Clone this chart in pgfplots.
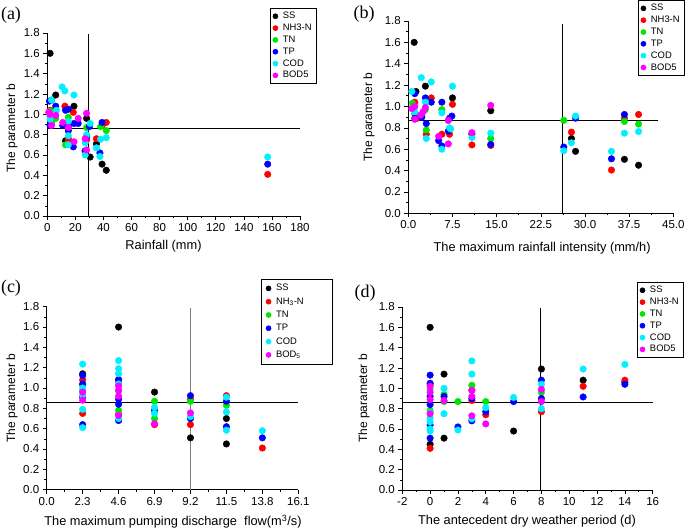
\documentclass[border=0pt]{standalone}
\usepackage{pgfplots}
\pgfplotsset{compat=1.18}
\usepackage{fontspec}
\setmainfont{Liberation Sans}
\newfontfamily\seriffont{Liberation Serif}
\definecolor{cgreen}{RGB}{0,230,0}
\definecolor{ccyan}{RGB}{0,240,255}
\definecolor{cmag}{RGB}{255,0,255}
\definecolor{cblue}{RGB}{0,0,255}
\definecolor{cred}{RGB}{255,0,0}
\begin{document}
\begin{tikzpicture}
\useasboundingbox (0pt,0pt) rectangle (685pt,528pt);
\pgfplotsset{
  panel/.style={
    scale only axis, axis lines=left, axis line style={-, line width=0.8pt},
    ymin=0, ymax=1.8, ytick={0,0.2,0.4,0.6,0.8,1.0,1.2,1.4,1.6,1.8},
    minor y tick num=1, minor x tick num=1,
    tick align=outside, major tick length=4pt, minor tick length=2.2pt,
    every tick/.style={black, line width=0.6pt},
    /pgf/number format/assume math mode=true,
    yticklabel style={font=\fontsize{11.5}{12}\selectfont, /pgf/number format/.cd, fixed, fixed zerofill, precision=1},
    xticklabel style={font=\fontsize{11.5}{12}\selectfont},
    ylabel={The parameter b},
    xlabel style={font=\fontsize{12.8}{14}\selectfont, anchor=center},
    ylabel style={font=\fontsize{12}{14}\selectfont, anchor=center},
    legend cell align=left,
    legend style={draw=black, line width=0.6pt, font=\fontsize{9.4}{10}\selectfont, inner xsep=3pt, inner ysep=2pt, row sep=-0.2pt, anchor=north east,
      /tikz/every odd column/.append style={column sep=3pt}},
    clip=false,
  },
  s1/.style={only marks, mark=*, mark size=3.3pt, color=black},
  s2/.style={only marks, mark=*, mark size=3.3pt, color=cred},
  s3/.style={only marks, mark=*, mark size=3.3pt, color=cgreen},
  s4/.style={only marks, mark=*, mark size=3.3pt, color=cblue},
  s5/.style={only marks, mark=*, mark size=3.3pt, color=ccyan},
  s6/.style={only marks, mark=*, mark size=3.3pt, color=cmag},
  legend image post style={mark size=2.5pt},
}
% ---------------- (a)
\begin{axis}[panel, at={(47.3pt,312pt)}, anchor=south west, width=252.7pt, height=183pt,
  xmin=0, xmax=180, xtick={0,20,...,180},
  xlabel={Rainfall (mm)},
  xlabel style={at={(axis description cs:0.46,-0.165)}},
  ylabel style={at={(axis description cs:-0.14,0.48)}},
  legend style={at={(1.067,1.137)}}]
\addplot[s1] coordinates {(3,1.14) (2,1.60) (6,1.19) (19,1.08) (28,0.96) (13,0.74) (30.5,0.58) (35,0.71) (39,0.51) (42,0.45)};
\addplot[s2] coordinates {(2,1.04) (3,0.92) (12.5,1.08) (18.5,1.02) (15,0.76) (15,0.74) (27,0.64) (28,0.75) (35,0.76) (42,0.92) (39,0.89) (157,0.41)};
\addplot[s3] coordinates {(2,1.03) (3,0.93) (6,0.96) (15,0.97) (15,0.87) (28,0.87) (38,0.88) (42,0.84) (2,0.98) (13,0.70)};
\addplot[s4] coordinates {(1.5,1.13) (6,1.08) (13,1.04) (15,1.05) (15,0.84) (15,0.89) (11,0.89) (19,0.91) (22,0.91) (18.5,0.68) (27,0.64) (28,0.78) (30,0.88) (39,0.92) (37.5,0.62) (157,0.51) (2,0.89)};
\addplot[s5] coordinates {(10.5,1.27) (12.5,1.23) (19,1.19) (3,1.14) (6.5,1.04) (2,0.95) (15,0.79) (15,0.70) (27,0.72) (27,0.60) (28,0.80) (30.5,0.91) (35,0.67) (38,0.755) (42,0.77) (37.5,0.585) (157,0.58) (15,0.93)};
\addplot[s6] coordinates {(2,1.0) (6,0.99) (3,0.89) (11,0.92) (22,0.96) (28,1.01) (15,0.87) (19,0.73) (27,0.76) (28,0.65) (1,1.02)};
\addplot[black, line width=1pt, forget plot] coordinates {(29.2,0) (29.2,1.79)};
\addplot[black, line width=1pt, forget plot] coordinates {(0,0.86) (180,0.86)};
\legend{SS,NH3-N,TN,TP,COD,BOD5}
\end{axis}
% ---------------- (b)
\begin{axis}[panel, at={(408.3pt,314.7pt)}, anchor=south west, width=265pt, height=192.3pt,
  xmin=0, xmax=45, xtick={0,7.5,...,45},
  xticklabel style={/pgf/number format/.cd, fixed, fixed zerofill, precision=1},
  xlabel={The maximum rainfall intensity (mm/h)},
  xlabel style={at={(axis description cs:0.505,-0.18)}},
  ylabel style={at={(axis description cs:-0.148,0.5)}},
  legend style={at={(1.044,1.109)}}]
\addplot[s1] coordinates {(1.0,1.60) (2.9,1.19) (1.3,1.14) (7.5,1.08) (14.0,0.96) (10.8,0.74) (27.7,0.70) (28.4,0.58) (36.7,0.505) (39.1,0.45)};
\addplot[s2] coordinates {(3.9,1.08) (7.5,1.02) (1.1,1.04) (1.5,0.89) (3.05,0.74) (5.7,0.74) (7.0,0.74) (10.8,0.64) (14.0,0.635) (27.7,0.76) (34.5,0.405) (36.7,0.89) (39.1,0.925)};
\addplot[s3] coordinates {(0.7,1.03) (2.9,0.97) (5.7,0.97) (6.8,0.87) (3.05,0.78) (14.0,0.70) (26.4,0.87) (36.7,0.86) (39.1,0.835) (1.1,0.93)};
\addplot[s4] coordinates {(1.1,1.12) (2.9,1.08) (3.9,1.04) (5.7,1.04) (2.3,0.90) (1.1,0.89) (7.4,0.91) (7.0,0.89) (3.05,0.84) (5.15,0.68) (5.7,0.63) (6.8,0.77) (14.0,0.645) (26.4,0.62) (28.4,0.89) (34.5,0.51) (36.7,0.925)};
\addplot[s5] coordinates {(2.2,1.27) (3.9,1.23) (7.5,1.19) (0.6,1.14) (2.9,1.04) (1.1,0.95) (5.7,0.94) (3.05,0.70) (5.7,0.60) (7.0,0.80) (7.2,0.79) (10.8,0.71) (14.0,0.75) (26.4,0.585) (27.7,0.66) (28.4,0.91) (34.5,0.58) (36.7,0.75) (39.1,0.765)};
\addplot[s6] coordinates {(0.6,0.98) (1.1,1.0) (2.9,0.99) (2.5,0.95) (2.1,0.92) (1.1,0.88) (6.8,0.87) (5.15,0.72) (6.8,0.65) (10.8,0.755) (14.0,1.01)};
\addplot[black, line width=1pt, forget plot] coordinates {(26.1,0) (26.1,1.77)};
\addplot[black, line width=1pt, forget plot] coordinates {(0,0.873) (42.4,0.873)};
\legend{SS,NH3-N,TN,TP,COD,BOD5}
\end{axis}
% ---------------- (c)
\begin{axis}[panel, at={(46.7pt,38.3pt)}, anchor=south west, width=251.6pt, height=183pt,
  xmin=0, xmax=16.1, xtick={0,2.3,4.6,6.9,9.2,11.5,13.8,16.1},
  xticklabel style={/pgf/number format/.cd, fixed, fixed zerofill, precision=1},
  xlabel={The maximum pumping discharge\ \ flow(m\textsuperscript{3}/s)},
  xlabel style={at={(axis description cs:0.502,-0.175)}},
  ylabel style={at={(axis description cs:-0.138,0.5)}},
  legend style={at={(1.138,1.151)}, row sep=1.3pt, inner xsep=5pt, inner ysep=3pt}]
\addplot[s1] coordinates {(2.3,1.14) (4.6,1.60) (4.6,1.08) (6.9,0.96) (9.2,0.51) (11.5,0.70) (11.5,0.45)};
\addplot[s2] coordinates {(2.3,1.08) (2.3,0.75) (4.6,1.08) (4.6,0.74) (6.9,0.64) (9.2,0.89) (9.2,0.64) (11.5,0.925) (13.8,0.41)};
\addplot[s3] coordinates {(2.3,0.97) (2.3,1.03) (4.6,0.97) (4.6,0.78) (6.9,0.87) (6.9,0.70) (9.2,0.87) (11.5,0.83)};
\addplot[s4] coordinates {(2.3,1.125) (2.3,1.04) (2.3,0.91) (2.3,0.64) (4.6,1.08) (4.6,1.04) (4.6,0.89) (4.6,0.84) (4.6,0.68) (6.9,0.78) (9.2,0.925) (9.2,0.70) (11.5,0.87) (11.5,0.62) (13.8,0.51)};
\addplot[s5] coordinates {(2.3,1.235) (2.3,1.0) (2.3,0.93) (2.3,0.79) (2.3,0.61) (4.6,1.27) (4.6,1.19) (4.6,1.14) (4.6,1.04) (4.6,0.70) (6.9,0.81) (6.9,0.75) (9.2,0.72) (11.5,0.91) (11.5,0.765) (11.5,0.585) (13.8,0.58)};
\addplot[s6] coordinates {(2.3,0.96) (2.3,0.88) (4.6,1.02) (4.6,0.98) (4.6,0.92) (4.6,0.73) (6.9,0.65) (9.2,0.755)};
\addplot[gray, line width=1.2pt, forget plot] coordinates {(9.2,0) (9.2,1.79)};
\addplot[black, line width=1pt, forget plot] coordinates {(0,0.86) (16.1,0.86)};
\legend{SS,NH\textsubscript{3}-N\hspace*{22pt},TN,TP,COD,BOD\textsubscript{5}}
\end{axis}
% ---------------- (d)
\begin{axis}[panel, at={(402.3pt,38pt)}, anchor=south west, width=250.4pt, height=183pt,
  xmin=-2, xmax=16, xtick={-2,0,...,16},
  xlabel={The antecedent dry weather period (d)},
  xlabel style={at={(axis description cs:0.498,-0.17)}},
  ylabel style={at={(axis description cs:-0.153,0.5)}},
  legend style={at={(1.125,1.137)}}]
\addplot[s1] coordinates {(0,1.60) (0,0.45) (1,1.14) (1,0.51) (6,0.58) (8,1.19) (11,1.08) (14,1.06)};
\addplot[s2] coordinates {(0,0.41) (0,1.04) (3,0.98) (3,0.88) (4,0.74) (8,0.77) (11,1.02) (14,1.08)};
\addplot[s3] coordinates {(0,0.99) (0,0.78) (1,0.94) (1,0.87) (2,0.87) (3,1.03) (4,0.87) (8,0.96)};
\addplot[s4] coordinates {(0,1.13) (0,1.05) (0,0.92) (0,0.84) (0,0.64) (0,0.51) (1,0.92) (2,0.62) (3,0.90) (3,0.68) (4,0.77) (6,0.87) (8,1.08) (8,0.90) (11,0.915) (14,1.04)};
\addplot[s5] coordinates {(0,0.76) (0,0.71) (0,0.67) (0,0.60) (0,0.58) (1,1.0) (1,0.75) (2,0.59) (3,1.27) (3,1.14) (3,0.70) (4,0.81) (6,0.91) (8,1.04) (8,0.80) (11,1.19) (14,1.235)};
\addplot[s6] coordinates {(0,1.02) (0,0.96) (0,0.89) (0,0.75) (1,0.88) (3,0.98) (3,0.92) (3,0.73) (4,0.65) (8,0.99) (8,0.87)};
\addplot[black, line width=1pt, forget plot] coordinates {(7.9,0) (7.9,1.79)};
\addplot[black, line width=1pt, forget plot] coordinates {(-2,0.86) (16,0.86)};
\legend{SS,NH3-N,TN,TP,COD,BOD5}
\end{axis}
\node[font=\seriffont\fontsize{18}{18}\selectfont] at (11pt,513pt) {(a)};
\node[font=\seriffont\fontsize{18}{18}\selectfont] at (364pt,514pt) {(b)};
\node[font=\seriffont\fontsize{18}{18}\selectfont] at (11pt,240pt) {(c)};
\node[font=\seriffont\fontsize{18}{18}\selectfont] at (365pt,235pt) {(d)};
\end{tikzpicture}
\end{document}
